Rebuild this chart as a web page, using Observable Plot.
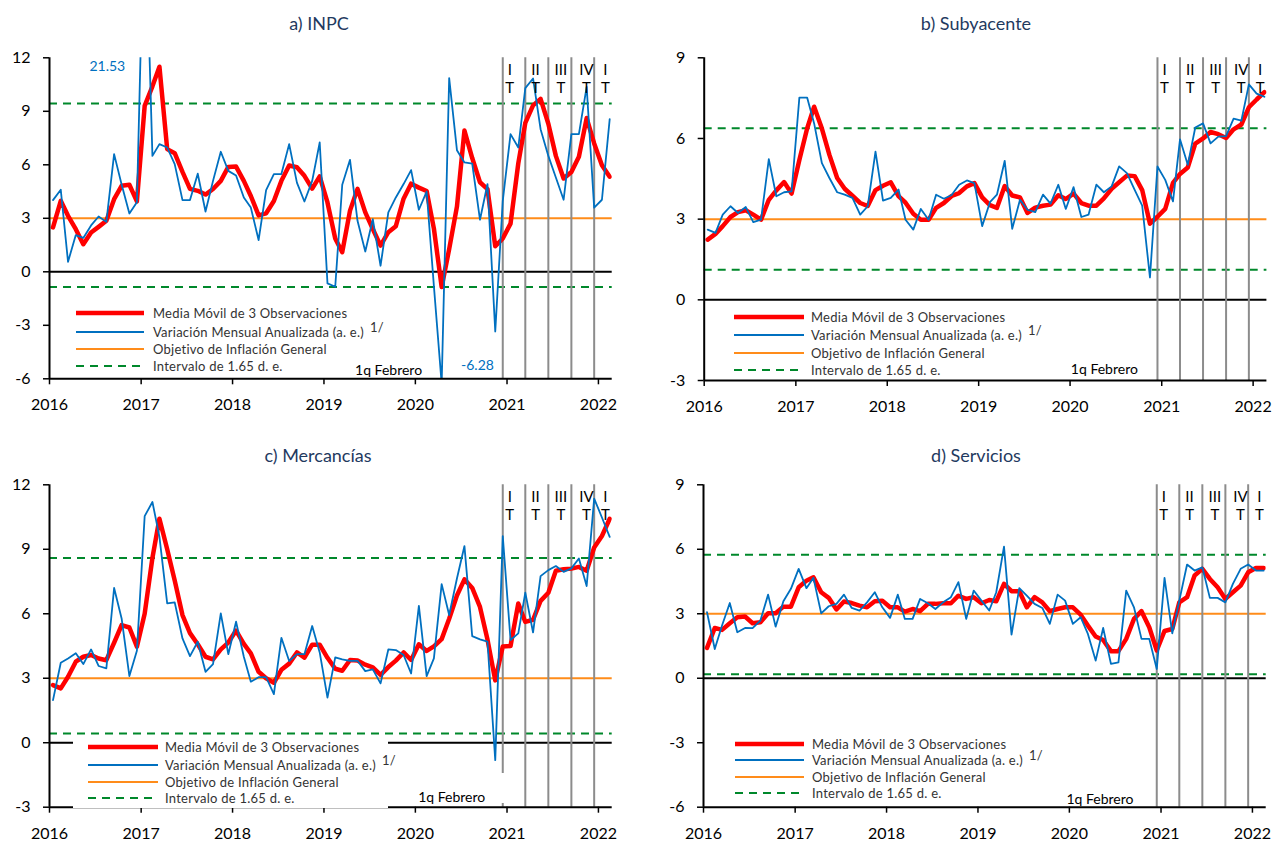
<!DOCTYPE html>
<html><head><meta charset="utf-8">
<script src="https://cdn.jsdelivr.net/npm/d3@7"></script>
<script src="https://cdn.jsdelivr.net/npm/@observablehq/plot@0.6"></script>
<style>
body{margin:0;background:#fff;}
#root{position:relative;width:1275px;height:842px;overflow:hidden;font-family:Lato,"Open Sans",sans-serif;}
.title{position:absolute;font-size:18px;color:#1f3a5f;transform:translate(-50%,-50%);white-space:nowrap;line-height:1;}
.svgwrap{position:absolute;}
.svgwrap svg{overflow:visible;}
.leg-row{position:absolute;height:18px;display:flex;align-items:center;white-space:nowrap;font-size:13px;letter-spacing:0.25px;color:#333;}
.leg-row svg{flex:none;}
.sup{position:relative;top:-5px;margin-left:6px;font-size:13px;}
.whitebox{position:absolute;background:#fff;}
.note{position:absolute;font-size:14px;color:#000;transform:translate(-50%,-50%);white-space:nowrap;line-height:1;}
</style></head><body><div id="root"></div>
<script>
// ---------- data ----------
const months = [
"2016-01","2016-02","2016-03","2016-04","2016-05","2016-06","2016-07","2016-08","2016-09","2016-10","2016-11","2016-12",
"2017-01","2017-02","2017-03","2017-04","2017-05","2017-06","2017-07","2017-08","2017-09","2017-10","2017-11","2017-12",
"2018-01","2018-02","2018-03","2018-04","2018-05","2018-06","2018-07","2018-08","2018-09","2018-10","2018-11","2018-12",
"2019-01","2019-02","2019-03","2019-04","2019-05","2019-06","2019-07","2019-08","2019-09","2019-10","2019-11","2019-12",
"2020-01","2020-02","2020-03","2020-04","2020-05","2020-06","2020-07","2020-08","2020-09","2020-10","2020-11","2020-12",
"2021-01","2021-02","2021-03","2021-04","2021-05","2021-06","2021-07","2021-08","2021-09","2021-10","2021-11","2021-12",
"2022-01","2022-02"];

// a) INPC
const inpcVar = [4.02,4.6,0.56,2.06,1.9,2.6,3.1,2.8,6.6,4.9,3.27,3.9,
 21.53,6.5,7.16,6.97,6.04,4.02,4.02,5.5,3.38,5.1,6.73,5.66,
 5.4,4.17,3.6,1.78,4.58,5.48,5.48,7.16,5.0,3.94,5.1,7.25,
 -0.65,-0.84,4.88,6.28,2.86,1.14,2.95,0.34,3.33,4.17,4.92,5.7,
 3.48,4.5,-0.8,-6.28,10.86,6.82,6.13,6.07,2.92,4.92,-3.35,3.98,
 7.72,6.97,10.3,10.84,8.0,6.5,5.29,4.04,7.72,7.72,10.37,3.6,
 4.04,8.56];
const inpcMA = [2.49,3.98,3.14,2.39,1.55,2.2,2.52,2.86,4.07,4.82,4.88,3.95,
 9.3,10.4,11.5,6.88,6.65,5.6,4.65,4.54,4.33,4.64,5.1,5.88,
 5.9,5.1,4.25,3.16,3.28,3.97,5.1,5.96,5.86,5.38,4.66,5.35,
 3.89,1.87,1.1,3.43,4.65,3.33,2.4,1.47,2.22,2.56,4.1,4.94,
 4.72,4.53,2.42,-0.85,1.27,3.65,7.92,6.38,5.02,4.64,1.43,1.87,
 2.7,6.08,8.35,9.33,9.7,8.3,6.5,5.23,5.6,6.45,8.62,7.2,
 5.97,5.33];

// b) Subyacente
const subVar = [2.61,2.49,3.17,3.48,3.23,3.45,2.89,2.98,5.23,3.85,4.0,4.03,
 7.52,7.52,6.56,5.08,4.53,4.0,3.91,3.79,3.17,3.48,5.51,3.69,
 3.79,4.1,2.98,2.61,3.38,2.98,3.91,3.76,3.9,4.28,4.44,4.34,
 2.74,3.63,3.91,5.17,2.64,3.72,3.35,3.26,3.91,3.58,4.28,3.38,
 4.19,3.08,3.17,4.28,4.0,4.22,4.96,4.71,4.09,3.5,0.83,4.96,
 4.46,3.66,5.97,5.02,6.41,6.56,5.82,6.07,6.09,6.74,6.66,8.01,
 7.67,7.55];
const subMA = [2.24,2.45,2.74,3.08,3.26,3.33,3.17,2.98,3.72,4.07,4.38,3.95,
 5.2,6.37,7.18,6.37,5.39,4.53,4.13,3.87,3.6,3.49,4.08,4.24,
 4.37,3.86,3.61,3.2,2.98,2.98,3.42,3.6,3.86,3.97,4.22,4.34,
 3.81,3.52,3.42,4.23,3.88,3.81,3.23,3.43,3.5,3.54,3.89,3.75,
 3.95,3.6,3.5,3.5,3.77,4.13,4.37,4.62,4.6,4.08,2.83,3.09,
 3.38,4.35,4.68,4.92,5.81,6.0,6.24,6.16,6.02,6.34,6.52,7.16,
 7.45,7.72];

// c) Mercancías
const mercVar = [1.98,3.72,3.92,4.16,3.66,4.34,3.57,3.46,7.2,5.78,3.1,4.28,
 10.54,11.2,9.58,6.48,6.53,4.85,4.03,4.7,3.3,3.66,6.02,4.12,
 5.63,4.0,2.84,3.05,3.05,2.26,4.88,3.8,4.12,4.12,5.43,4.2,
 2.1,3.97,3.88,3.81,3.81,3.33,3.41,2.76,4.34,4.31,4.08,3.22,
 6.37,3.1,3.92,7.38,5.94,7.64,9.15,4.96,4.81,4.7,-0.81,9.61,
 4.78,5.09,6.98,5.13,7.75,8.03,8.22,7.95,8.11,8.57,7.29,11.36,
 10.48,9.58];
const mercMA = [2.68,2.53,3.07,3.77,4.0,4.08,3.92,3.84,4.65,5.47,5.36,4.47,
 6.0,8.6,10.42,9.0,7.55,5.94,5.1,4.58,4.0,3.88,4.34,4.66,
 5.22,4.6,4.16,3.3,3.0,2.79,3.39,3.68,4.2,3.96,4.56,4.56,
 3.95,3.44,3.35,3.85,3.82,3.63,3.51,3.16,3.52,3.82,4.2,3.85,
 4.58,4.27,4.48,4.82,5.77,6.85,7.6,7.2,6.32,4.8,2.9,4.48,
 4.5,6.48,5.62,5.72,6.6,6.98,8.0,8.07,8.1,8.18,8.0,9.08,
 9.62,10.42];

// d) Servicios
const servVar = [3.07,1.36,2.45,3.5,2.14,2.34,2.33,2.68,3.89,2.4,3.58,4.16,
 5.09,4.19,4.67,3.02,3.35,3.46,3.89,3.27,3.15,3.53,4.0,3.3,
 2.81,3.89,2.76,2.76,3.69,3.49,3.22,3.53,3.77,4.47,2.76,4.08,
 3.61,3.15,4.0,6.12,2.03,4.19,3.84,3.46,3.27,2.53,3.89,3.61,
 2.53,2.84,2.06,0.82,2.34,0.67,0.74,4.08,3.3,1.83,1.83,0.43,
 4.67,2.09,3.61,5.29,5.01,5.16,3.74,3.74,3.53,4.39,5.09,5.29,
 5.01,5.01];
const servMA = [1.41,2.34,2.25,2.56,2.84,2.87,2.56,2.6,3.02,3.02,3.33,3.33,
 4.23,4.54,4.7,4.0,3.74,3.2,3.57,3.5,3.38,3.3,3.58,3.61,
 3.3,3.3,3.1,3.22,3.12,3.46,3.46,3.49,3.49,3.84,3.69,3.77,
 3.49,3.64,3.58,4.39,4.05,4.05,3.3,3.77,3.53,3.12,3.22,3.3,
 3.3,2.96,2.45,1.94,1.78,1.26,1.26,1.83,2.76,3.12,2.37,1.29,
 2.2,2.29,3.53,3.77,4.78,5.09,4.62,4.23,3.69,4.0,4.31,4.93,
 5.13,5.13];

const target = 3;
const intervalINPC = [-0.85, 9.44];
const intervalSub = [1.12, 6.38];
const intervalMerc = [0.43, 8.6];
const intervalServ = [0.19, 5.75];

const yearTicks = ["2016","2017","2018","2019","2020","2021","2022"];
const quarterLineMonths = ["2020-12","2021-03","2021-06","2021-09","2021-12"];
const quarterLabels = ["I","II","III","IV","I"];
const quarterLabelDates = ["2021-01-12","2021-04-25","2021-08-04","2021-11-14","2022-01-29"];

const legendLabels = ["Media Móvil de 3 Observaciones","Variación Mensual Anualizada (a. e.)","Objetivo de Inflación General","Intervalo de 1.65 d. e."];
const noteText = "1q Febrero";

// ---------- helpers ----------
const RED = "#ff0000", BLUE = "#0070c0", ORANGE = "#ff8c1a", GREEN = "#00882b", GREY = "#8c8c8c";
const mDate = m => { const [y, mo] = m.split("-").map(Number); return new Date(Date.UTC(y, mo - 1, 15)); };
const dDate = s => { const [y, mo, d] = s.split("-").map(Number); return new Date(Date.UTC(y, mo - 1, d)); };
const xDomain = [new Date(Date.UTC(2016,0,1)), new Date(Date.UTC(2022,1,25))];
const yearDates = yearTicks.map(y => new Date(Date.UTC(+y,0,1)));
const qLines = quarterLineMonths.map(mDate);
const qLabelData = quarterLabels.map((l,i) => ({date: dDate(quarterLabelDates[i]), label: l + "\nT"}));

const root = document.getElementById("root");

function addDiv(cls, css, html){
  const d = document.createElement("div");
  d.className = cls; Object.assign(d.style, css); if (html != null) d.innerHTML = html;
  root.appendChild(d); return d;
}

function panel(cfg){
  const data = months.map((m,i) => ({date: mDate(m), v: cfg.varS[i], ma: cfg.maS[i]}));
  const marks = [
    Plot.ruleY(cfg.band, {stroke: GREEN, strokeWidth: 2, strokeDasharray: "8,6"}),
    Plot.ruleY([target], {stroke: ORANGE, strokeWidth: 2}),
    Plot.ruleY([0], {stroke: "#000", strokeWidth: 2}),
    Plot.ruleX(qLines, {stroke: GREY, strokeWidth: 2}),
    Plot.line(data, {x: "date", y: "ma", stroke: RED, strokeWidth: 4.5, clip: true}),
    Plot.line(data, {x: "date", y: "v", stroke: BLUE, strokeWidth: 1.8, clip: true}),
    Plot.text(qLabelData, {x: "date", text: "label", frameAnchor: "top", lineAnchor: "top", dy: 4, fontSize: 15, lineHeight: 1.2, fill: "#000"}),
    Plot.axisX({ticks: yearDates, tickFormat: d => String(d.getUTCFullYear()), tickSize: 6, tickPadding: 14, strokeWidth: 1.5, label: null, fontSize: 16}),
    Plot.axisY({ticks: cfg.yTicks, tickFormat: d => String(d), tickSize: 6, tickPadding: 13, strokeWidth: 1.5, label: null, fontSize: 16}),
    Plot.ruleX([xDomain[0]], {stroke: "#000", strokeWidth: 2}),
    Plot.ruleY([cfg.yDomain[0]], {stroke: "#000", strokeWidth: 2}),
    Plot.text(cfg.notes, {x: "date", y: "y", text: "text", fill: "fill", fontSize: 14})
  ];
  const svg = Plot.plot({
    width: cfg.w, height: cfg.h,
    marginLeft: cfg.ml, marginRight: cfg.mr, marginTop: cfg.mt, marginBottom: cfg.mb,
    style: {fontFamily: "Lato, 'Open Sans', sans-serif", fontSize: "16px", color: "#000", background: "transparent", overflow: "visible"},
    x: {type: "utc", domain: xDomain, label: null},
    y: {domain: cfg.yDomain, label: null},
    marks
  });
  const wrap = addDiv("svgwrap", {left: cfg.left + "px", top: cfg.top + "px"});
  wrap.appendChild(svg);
  addDiv("title", {left: cfg.titleX + "px", top: cfg.titleY + "px"}, cfg.title);

  (cfg.boxes || []).forEach(b => addDiv("whitebox", {left: b[0]+"px", top: b[1]+"px", width: b[2]+"px", height: b[3]+"px"}));
  // notes that sit on a white box are placed above it, through the same x / y scales
  (cfg.boxNotes || []).forEach(n => {
    const px = svg.scale("x").apply(dDate(n[0])) + cfg.left;
    const py = svg.scale("y").apply(n[1]) + cfg.top;
    addDiv("note", {left: px + "px", top: py + "px"}, n[2]);
  });

  const items = [
    {color: RED, w: 4.5, dash: null},
    {color: BLUE, w: 1.8, dash: null, sup: "1/"},
    {color: ORANGE, w: 2, dash: null},
    {color: GREEN, w: 2, dash: "8,6"}
  ];
  const L = cfg.legend;
  items.forEach((it, i) => {
    const len = L.lineEnd - L.lineX;
    const svgLine = `<svg width="${len}" height="18"><line x1="0" x2="${len}" y1="9" y2="9" stroke="${it.color}" stroke-width="${it.w}" ${it.dash ? `stroke-dasharray="${it.dash}"` : ""}/></svg>`;
    const text = `<span style="margin-left:${L.textX - L.lineEnd}px">${legendLabels[i]}</span>` + (it.sup ? `<span class="sup">${it.sup}</span>` : "");
    addDiv("leg-row", {left: L.lineX + "px", top: (L.rows[i] - 9) + "px"}, svgLine + text);
  });
}

const mkNotes = arr => arr.map(n => ({date: dDate(n[0]), y: n[1], text: n[2], fill: n[3]}));

panel({
  title: "a) INPC", titleX: 319, titleY: 23,
  left: 0, top: 30, w: 637, h: 400, ml: 49, mr: 25.3, mt: 27.3, mb: 51.7,
  yDomain: [-6, 12], yTicks: [-6,-3,0,3,6,9,12], band: intervalINPC,
  varS: inpcVar, maS: inpcMA,
  notes: mkNotes([["2016-08-19", 11.5, "21.53", BLUE], ["2020-09-05", -5.26, "-6.28", BLUE], ["2019-09-16", -5.54, noteText, "#000"]]),
  legend: {lineX: 76, lineEnd: 144, textX: 153, rows: [313.3, 331.5, 349, 366]}
});
panel({
  title: "b) Subyacente", titleX: 976, titleY: 23,
  left: 637, top: 30, w: 638, h: 400, ml: 66.7, mr: 8.6, mt: 27.3, mb: 50,
  yDomain: [-3, 9], yTicks: [-3,0,3,6,9], band: intervalSub,
  varS: subVar, maS: subMA,
  notes: mkNotes([["2020-05-17", -2.58, noteText, "#000"]]),
  legend: {lineX: 734, lineEnd: 804, textX: 811, rows: [316.7, 335, 352.7, 370]}
});
panel({
  title: "c) Mercancías", titleX: 318, titleY: 455,
  left: 0, top: 460, w: 637, h: 382, ml: 49, mr: 25.3, mt: 24.3, mb: 35.3,
  yDomain: [-3, 12], yTicks: [-3,0,3,6,9,12], band: intervalMerc,
  varS: mercVar, maS: mercMA,
  notes: [],
  boxNotes: [["2020-05-27", -2.57, noteText]],
  boxes: [[73, 735, 315, 73], [410, 773, 96, 30]],
  legend: {lineX: 88, lineEnd: 158, textX: 165, rows: [746.7, 765, 782.3, 798.3]}
});
panel({
  title: "d) Servicios", titleX: 976, titleY: 455,
  left: 637, top: 460, w: 638, h: 382, ml: 66, mr: 9.3, mt: 24.3, mb: 35.3,
  yDomain: [-6, 9], yTicks: [-6,-3,0,3,6,9], band: intervalServ,
  varS: servVar, maS: servMA,
  notes: mkNotes([["2020-05-02", -5.66, noteText, "#000"]]),
  legend: {lineX: 735, lineEnd: 804, textX: 812, rows: [744, 760, 776.7, 792.7]}
});
</script></body></html>
